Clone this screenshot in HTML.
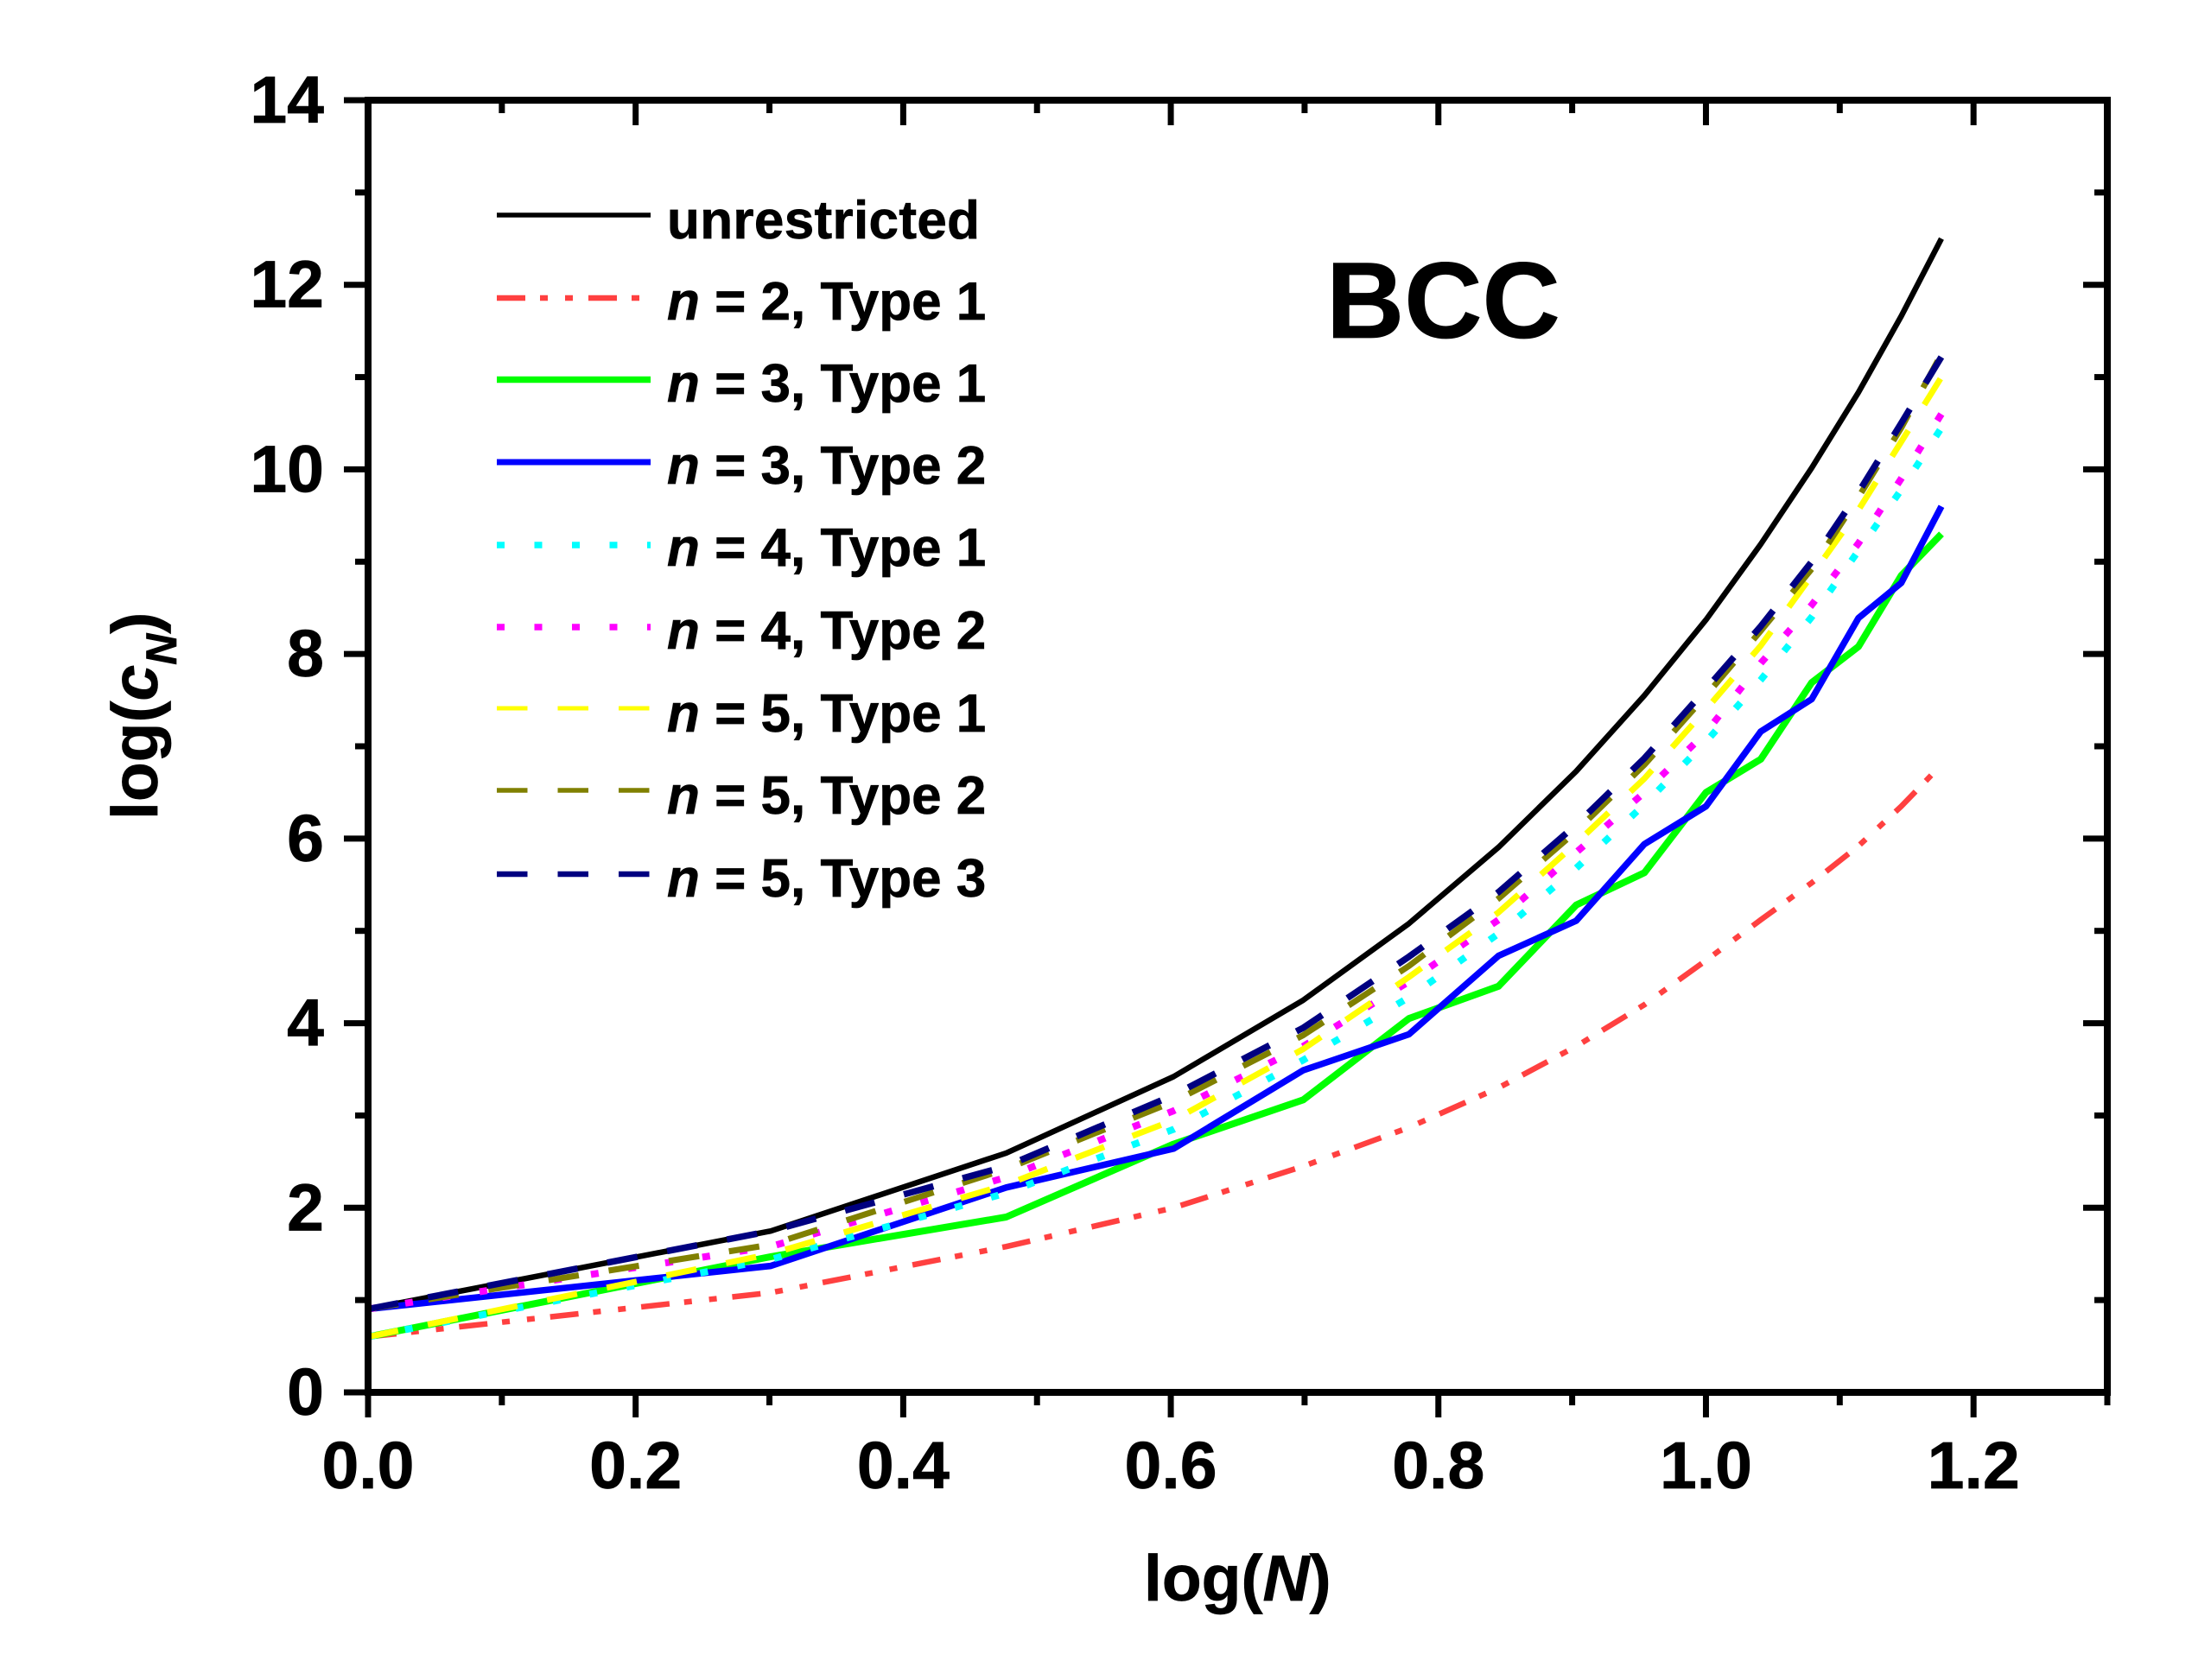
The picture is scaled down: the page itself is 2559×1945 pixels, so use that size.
<!DOCTYPE html>
<html lang="en">
<head>
<meta charset="utf-8">
<title>BCC log(cN) vs log(N)</title>
<style>
html,body{margin:0;padding:0;background:#fff;}
svg{display:block;}
text{font-family:"Liberation Sans",Arial,sans-serif;font-weight:bold;fill:#000;stroke:#000;stroke-width:0.7px;}
</style>
</head>
<body>
<svg id="chart" xmlns="http://www.w3.org/2000/svg" width="2559" height="1945" viewBox="0 0 2559 1945">
<rect x="0" y="0" width="2559" height="1945" fill="#fff"/>
<g id="series-layer"></g>
<g id="axes-layer"></g>
<g id="legend-layer"></g>
<text x="1535" y="391" font-size="125">BCC</text>
<text x="1324" y="1853" font-size="75">log(<tspan font-style="italic">N</tspan>)</text>
<text transform="translate(182,949) rotate(-90)" font-size="75">log(<tspan font-style="italic">c</tspan><tspan font-style="italic" font-size="50" dy="22">N</tspan><tspan dy="-22">)</tspan></text>
</svg>
<script>
const logN = [0, 0.301, 0.477, 0.602, 0.699, 0.778, 0.845, 0.903, 0.954, 1.0, 1.041, 1.079, 1.114, 1.146, 1.176];
const unrestricted = [0.903, 1.748, 2.593, 3.42, 4.25, 5.08, 5.906, 6.73, 7.55, 8.37, 9.19, 10.015, 10.835, 11.66, 12.5];
const n2Type1 = [0.602, 1.08, 1.58, 2.0, 2.45, 2.87, 3.3, 3.75, 4.2, 4.68, 5.12, 5.52, 5.92, 6.35, 6.8];
const n3Type1 = [0.602, 1.47, 1.9, 2.69, 3.17, 4.05, 4.4, 5.28, 5.63, 6.5, 6.86, 7.69, 8.08, 8.85, 9.3];
const n3Type2 = [0.903, 1.37, 2.22, 2.64, 3.49, 3.88, 4.73, 5.11, 5.94, 6.35, 7.16, 7.51, 8.39, 8.77, 9.6];
const n4Type1 = [0.602, 1.44, 2.16, 2.85, 3.6, 4.28, 4.97, 5.68, 6.37, 7.05, 7.72, 8.4, 9.12, 9.78, 10.45];
const n4Type2 = [0.903, 1.58, 2.33, 3.05, 3.75, 4.45, 5.12, 5.85, 6.5, 7.15, 7.9, 8.53, 9.2, 9.9, 10.6];
const n5Type1 = [0.602, 1.5, 2.25, 2.95, 3.72, 4.5, 5.2, 5.95, 6.65, 7.4, 8.09, 8.85, 9.56, 10.3, 11.0];
const n5Type2 = [0.903, 1.6, 2.42, 3.15, 3.87, 4.62, 5.35, 6.08, 6.8, 7.55, 8.25, 8.92, 9.7, 10.45, 11.25];
const n5Type3 = [0.903, 1.748, 2.45, 3.22, 3.95, 4.72, 5.42, 6.15, 6.87, 7.62, 8.3, 9.0, 9.75, 10.5, 11.22];
const xTickValues = [0, 0.2, 0.4, 0.6, 0.8, 1.0, 1.2];
const xTickLabels = ['0.0', '0.2', '0.4', '0.6', '0.8', '1.0', '1.2'];
const xMinorTickValues = [0.1, 0.3, 0.5, 0.7, 0.9, 1.1, 1.3];
const yTickValues = [0, 2, 4, 6, 8, 10, 12, 14];
const yTickLabels = ['0', '2', '4', '6', '8', '10', '12', '14'];
const yMinorTickValues = [1, 3, 5, 7, 9, 11, 13];

const NS = 'http://www.w3.org/2000/svg';
const plot = { left: 426, right: 2439, top: 116, bottom: 1612, xMax: 1.3, yMax: 14 };
function xPos(v) { return plot.left + v / plot.xMax * (plot.right - plot.left); }
function yPos(v) { return plot.bottom - v / plot.yMax * (plot.bottom - plot.top); }
function make(tag, props, parent) {
  const el = document.createElementNS(NS, tag);
  for (const k in props) el.setAttribute(k, props[k]);
  parent.appendChild(el);
  return el;
}

const seriesList = [
  { key: 'unrestricted', label: 'unrestricted', values: unrestricted, color: '#000000', width: 6.5, legendWidth: 5.5, dash: '' },
  { key: 'n2-type1', n: '2', type: '1', values: n2Type1, color: '#ff4040', width: 6.5, legendWidth: 6.5, dash: '33 17 9 20 9 18' },
  { key: 'n3-type1', n: '3', type: '1', values: n3Type1, color: '#00ff00', width: 8, legendWidth: 7.5, dash: '' },
  { key: 'n3-type2', n: '3', type: '2', values: n3Type2, color: '#0000ff', width: 7.5, legendWidth: 7, dash: '' },
  { key: 'n4-type1', n: '4', type: '1', values: n4Type1, color: '#00ffff', width: 8, legendWidth: 7.5, dash: '9 34.5' },
  { key: 'n4-type2', n: '4', type: '2', values: n4Type2, color: '#ff00ff', width: 8, legendWidth: 7.5, dash: '9 34.5' },
  { key: 'n5-type1', n: '5', type: '1', values: n5Type1, color: '#ffff00', width: 7, legendWidth: 5, dash: '35.5 35' },
  { key: 'n5-type2', n: '5', type: '2', values: n5Type2, color: '#808000', width: 7, legendWidth: 5.5, dash: '35.5 35' },
  { key: 'n5-type3', n: '5', type: '3', values: n5Type3, color: '#000080', width: 7.5, legendWidth: 6.5, dash: '35.5 35' }
];
const legendLineY = [249, 345, 439.5, 535, 631, 726, 820, 915, 1012];
const legendTextY = [276, 370, 465, 560, 655, 751, 847, 942, 1038];

const seriesLayer = document.getElementById('series-layer');
const axesLayer = document.getElementById('axes-layer');
const legendLayer = document.getElementById('legend-layer');

seriesList.forEach(function (s) {
  const pts = s.values.map(function (v, i) { return xPos(logN[i]).toFixed(1) + ',' + yPos(v).toFixed(1); }).join(' ');
  const line = make('polyline', { points: pts, fill: 'none', stroke: s.color, 'stroke-width': s.width, 'stroke-linejoin': 'round' }, seriesLayer);
  if (s.dash) line.setAttribute('stroke-dasharray', s.dash);
  
  
});

const frame = make('rect', { x: plot.left, y: plot.top, width: plot.right - plot.left, height: plot.bottom - plot.top, fill: 'none', stroke: '#000', 'stroke-width': 8 }, axesLayer);



function tickLine(x1, y1, x2, y2, name) {
  const t = make('line', { x1: x1, y1: y1, x2: x2, y2: y2, stroke: '#000', 'stroke-width': 7 }, axesLayer);
  
  
}
xTickValues.forEach(function (v, i) {
  const x = xPos(v);
  tickLine(x, plot.bottom, x, plot.bottom + 29, 'x-major-tick');
  tickLine(x, plot.top, x, plot.top + 29, 'x-top-major-tick');
  const lab = make('text', { x: x, y: 1723, 'font-size': 77, 'text-anchor': 'middle' }, axesLayer);
  lab.textContent = xTickLabels[i];
  
  
});
xMinorTickValues.forEach(function (v) {
  const x = xPos(v);
  tickLine(x, plot.bottom, x, plot.bottom + 15, 'x-minor-tick');
  tickLine(x, plot.top, x, plot.top + 15, 'x-top-minor-tick');
});
yTickValues.forEach(function (v, i) {
  const y = yPos(v);
  tickLine(plot.left - 28, y, plot.left, y, 'y-major-tick');
  tickLine(plot.right - 28, y, plot.right, y, 'y-right-major-tick');
  const lab = make('text', { x: 375, y: y + 26, 'font-size': 77, 'text-anchor': 'end' }, axesLayer);
  lab.textContent = yTickLabels[i];
  
  
});
yMinorTickValues.forEach(function (v) {
  const y = yPos(v);
  tickLine(plot.left - 15, y, plot.left, y, 'y-minor-tick');
  tickLine(plot.right - 15, y, plot.right, y, 'y-right-minor-tick');
});

seriesList.forEach(function (s, i) {
  const sample = make('line', { x1: 575, x2: 753, y1: legendLineY[i], y2: legendLineY[i], stroke: s.color, 'stroke-width': s.legendWidth }, legendLayer);
  if (s.dash) sample.setAttribute('stroke-dasharray', s.dash);
  
  
  const txt = make('text', { x: 772, y: legendTextY[i], 'font-size': 62 }, legendLayer);
  
  
  if (s.label) {
    txt.textContent = s.label;
    txt.setAttribute('textLength', '362');
    txt.setAttribute('lengthAdjust', 'spacing');
  } else {
    const ital = make('tspan', { 'font-style': 'italic' }, txt);
    ital.textContent = 'n';
    txt.appendChild(document.createTextNode(' = ' + s.n + ', Type ' + s.type));
  }
});
</script>
</body>
</html>
